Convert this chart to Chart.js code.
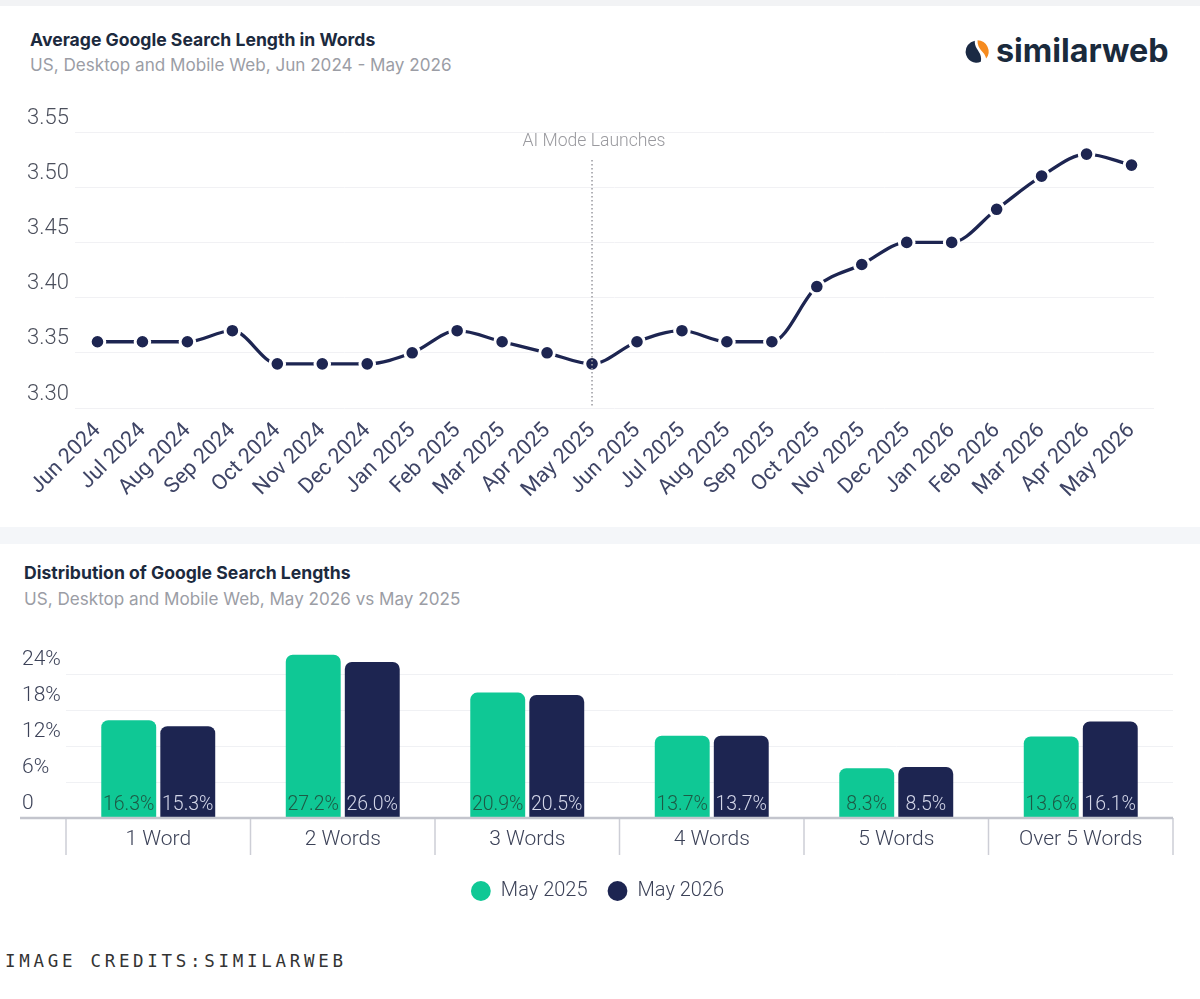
<!DOCTYPE html>
<html>
<head>
<meta charset="utf-8">
<script src="https://cdn.jsdelivr.net/npm/chart.js@4.4.1/dist/chart.umd.min.js"></script>
<style>
  html, body { margin:0; padding:0; background:#ffffff; }
  body { width:1200px; height:999px; position:relative; overflow:hidden; font-family: Inter, "Noto Sans", sans-serif; }
  .band-top { position:absolute; left:0; top:0; width:1200px; height:6px; background:#f2f3f5; }
  .band-mid { position:absolute; left:0; top:527px; width:1200px; height:17px; background:#f4f6f9; }
  .title { position:absolute; font-family: Inter, sans-serif; font-weight:700; color:#1c2a3e; font-size:17.6px; white-space:nowrap; }
  .sub { position:absolute; font-family: Inter, sans-serif; font-weight:400; color:#9b9da5; font-size:17.1px; white-space:nowrap; }
  .logo { position:absolute; left:963px; top:32px; display:flex; align-items:center; }
  .logo span { font-family: Inter, sans-serif; font-weight:700; font-size:32.3px; color:#1a2a3c; letter-spacing:0px; margin-left:5px; line-height:38px; }
  .credits { position:absolute; left:5px; top:951px; font-family:"DejaVu Sans Mono", "Liberation Mono", monospace; font-size:17.5px; letter-spacing:3.7px; color:#333; white-space:nowrap; }
  canvas { position:absolute; left:0; }
</style>
</head>
<body>
<div class="band-top"></div>
<div class="band-mid"></div>

<div class="title" style="left:30px; top:29px;">Average Google Search Length in Words</div>
<div class="sub" style="left:30px; top:54px;">US, Desktop and Mobile Web, Jun 2024 - May 2026</div>
<div class="logo">
  <svg width="28" height="27" viewBox="0 0 26 24">
    <path fill="#f68b1f" d="M13.5 1.5 A10.5 10.5 0 0 1 21.5 18.5 C 20.5 12 13 10.5 13.5 1.5 Z"/>
    <path fill="#1b2a44" d="M11 2 C 10 10 18.5 12.5 16.5 21.5 A 10 10 0 0 1 2.5 13.5 A 10.5 10.5 0 0 1 11 2 Z"/>
  </svg>
  <span>similarweb</span>
</div>

<div class="title" style="left:24px; top:562px;">Distribution of Google Search Lengths</div>
<div class="sub" style="left:24px; top:588px;">US, Desktop and Mobile Web, May 2026 vs May 2025</div>

<canvas id="lineChart" width="1200" height="520" style="top:0px;"></canvas>
<canvas id="barChart" width="1200" height="311" style="top:600px;"></canvas>

<div class="credits">IMAGE CREDITS:SIMILARWEB</div>

<script>
// ---------- DATA ----------
const months = ["Jun 2024","Jul 2024","Aug 2024","Sep 2024","Oct 2024","Nov 2024","Dec 2024","Jan 2025","Feb 2025","Mar 2025","Apr 2025","May 2025","Jun 2025","Jul 2025","Aug 2025","Sep 2025","Oct 2025","Nov 2025","Dec 2025","Jan 2026","Feb 2026","Mar 2026","Apr 2026","May 2026"];
const avgLength = [3.36,3.36,3.36,3.37,3.34,3.34,3.34,3.35,3.37,3.36,3.35,3.34,3.36,3.37,3.36,3.36,3.41,3.43,3.45,3.45,3.48,3.51,3.53,3.52];
const lineTicks = [3.30,3.35,3.40,3.45,3.50,3.55];
const annotationMonth = "May 2025";
const annotationText = "AI Mode Launches";

const lengthCategories = ["1 Word","2 Words","3 Words","4 Words","5 Words","Over 5 Words"];
const may2025 = [16.3,27.2,20.9,13.7,8.3,13.6];
const may2026 = [15.3,26.0,20.5,13.7,8.5,16.1];
const barTicks = [0,6,12,18,24];

const NAVY = "#1d2551";
const GREEN = "#0fc895";
const TICK_COLOR = "#454b6a";

Chart.defaults.font.family = "Roboto, sans-serif";
Chart.defaults.font.weight = 300;

// ---------- LINE CHART ----------
const annotationPlugin = {
  id: "aimode",
  afterDatasetsDraw(chart) {
    const {ctx, chartArea, scales} = chart;
    const x = scales.x.getPixelForValue(months.indexOf(annotationMonth));
    ctx.save();
    ctx.strokeStyle = "#a0a0a6";
    ctx.lineWidth = 1.6;
    ctx.setLineDash([1.6, 2.4]);
    ctx.beginPath();
    ctx.moveTo(x, 160);
    ctx.lineTo(x, chartArea.bottom);
    ctx.stroke();
    ctx.setLineDash([]);
    ctx.fillStyle = "#9a9a9f";
    ctx.font = "300 17.6px Roboto, sans-serif";
    ctx.textAlign = "center";
    ctx.textBaseline = "middle";
    ctx.fillText(annotationText, x + 2, 142);
    ctx.restore();
  }
};

new Chart(document.getElementById("lineChart"), {
  type: "line",
  data: {
    labels: months,
    datasets: [{
      data: avgLength,
      borderColor: NAVY,
      borderWidth: 3.3,
      pointRadius: 7.3,
      pointHoverRadius: 7.3,
      pointBackgroundColor: NAVY,
      pointBorderColor: "#ffffff",
      pointBorderWidth: 3,
      cubicInterpolationMode: "monotone",
      fill: false
    }]
  },
  options: {
    responsive: false,
    animation: false,
    devicePixelRatio: 1,
    layout: { padding: { left: 27, right: 46, top: 132, bottom: 0 } },
    plugins: { legend: { display: false }, tooltip: { enabled: false } },
    scales: {
      x: {
        offset: true,
        grid: { display: false, drawTicks: false },
        border: { display: false },
        ticks: { autoSkip: false, maxRotation: 45, minRotation: 45, color: "#3f4566", font: { size: 21.5, weight: 400 }, padding: 10 },
        afterFit(s) { s.height = 112; }
      },
      y: {
        min: 3.30, max: 3.55,
        afterBuildTicks(s) { s.ticks = lineTicks.map(v => ({ value: v })); },
        grid: { color: "#f1f1f4", lineWidth: 1, drawTicks: false },
        border: { display: false },
        ticks: { color: "#4b4f5c", font: { size: 22, weight: 300 }, crossAlign: "far", labelOffset: -14, callback: v => Number(v).toFixed(2) },
        afterFit(s) { s.width = 48; }
      }
    }
  },
  plugins: [annotationPlugin]
});

// ---------- BAR CHART ----------
const barDecor = {
  id: "barDecor",
  afterDatasetsDraw(chart) {
    const {ctx, scales} = chart;
    const y0 = scales.y.getPixelForValue(0);
    ctx.save();
    ctx.font = "300 19.5px Roboto, sans-serif";
    ctx.textAlign = "center";
    ctx.textBaseline = "middle";
    const colors = ["#1d5a45", "#d3d6e8"];
    chart.data.datasets.forEach((ds, di) => {
      chart.getDatasetMeta(di).data.forEach((bar, i) => {
        ctx.fillStyle = colors[di];
        ctx.fillText(ds.data[i].toFixed(1) + "%", bar.x, y0 - 13);
      });
    });
    ctx.restore();
  },
  afterDraw(chart) {
    const {ctx, chartArea, scales} = chart;
    const y0 = scales.y.getPixelForValue(0);
    const n = chart.data.labels.length;
    const w = (chartArea.right - chartArea.left) / n;
    ctx.save();
    ctx.strokeStyle = "#cdced6";
    ctx.lineWidth = 1.5;
    for (let i = 0; i <= n; i++) {
      const x = chartArea.left + i * w;
      ctx.beginPath();
      ctx.moveTo(x, y0);
      ctx.lineTo(x, y0 + 37);
      ctx.stroke();
    }
    ctx.strokeStyle = "#c3c5cd";
    ctx.lineWidth = 2.5;
    ctx.beginPath();
    ctx.moveTo(20, y0);
    ctx.lineTo(chartArea.right, y0);
    ctx.stroke();
    ctx.restore();
  }
};

new Chart(document.getElementById("barChart"), {
  type: "bar",
  data: {
    labels: lengthCategories,
    datasets: [
      { label: "May 2025", data: may2025, backgroundColor: GREEN, borderRadius: { topLeft: 7, topRight: 7 }, borderSkipped: "bottom", categoryPercentage: 0.64, barPercentage: 0.93 },
      { label: "May 2026", data: may2026, backgroundColor: NAVY, borderRadius: { topLeft: 7, topRight: 7 }, borderSkipped: "bottom", categoryPercentage: 0.64, barPercentage: 0.93 }
    ]
  },
  options: {
    responsive: false,
    animation: false,
    devicePixelRatio: 1,
    layout: { padding: { left: 22, right: 27, top: 38, bottom: 0 } },
    plugins: {
      tooltip: { enabled: false },
      legend: {
        position: "bottom",
        labels: { usePointStyle: true, pointStyle: "circle", boxWidth: 20, boxHeight: 14, padding: 20, color: "#3c4258", font: { size: 20, weight: 300 } }
      }
    },
    scales: {
      x: {
        grid: { display: false, drawTicks: false },
        border: { display: false },
        ticks: { color: "#3c4258", font: { size: 21, weight: 300 }, padding: 9 },
        afterFit(s) { s.height = 43; }
      },
      y: {
        min: 0, max: 30,
        afterBuildTicks(s) { s.ticks = barTicks.map(v => ({ value: v })); },
        grid: { color: "#f0f1f4", lineWidth: 1, drawTicks: false },
        border: { display: false },
        ticks: { color: "#3c4258", font: { size: 21, weight: 300 }, crossAlign: "far", labelOffset: -14, callback: v => v === 0 ? "0" : v + "%" },
        afterFit(s) { s.width = 44; }
      }
    }
  },
  plugins: [barDecor]
});
</script>
</body>
</html>
